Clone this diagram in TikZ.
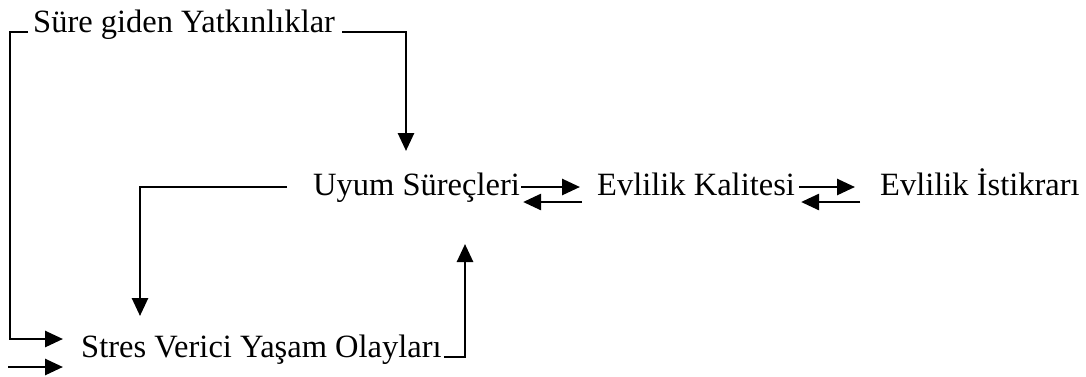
\documentclass[tikz,border=0pt]{standalone}
\usepackage{fontspec}
\setmainfont{Liberation Serif}
\usetikzlibrary{arrows.meta}
\begin{document}
\begin{tikzpicture}[x=1pt,y=-1pt,
  lbl/.style={anchor=base west,inner sep=0pt,font=\fontsize{32.5}{38}\selectfont},
  conn/.style={line width=2.7pt},
  arr/.style={conn,-{Triangle[length=18pt,width=16pt]}}]
\useasboundingbox (0,0) rectangle (1086,376);
% text nodes
\node[lbl] (sg) at (33,32) {Süre giden Yatkınlıklar};
\node[lbl] (uy) at (313,195) {Uyum Süreçleri};
\node[lbl] (ek) at (597,195) {Evlilik Kalitesi};
\node[lbl] (ei) at (880,195) {Evlilik İstikrarı};
\node[lbl] (st) at (81,357) {Stres Verici Yaşam Olayları};
% corner / free-end coordinates
\coordinate (c1) at (10,32);
\coordinate (c2) at (10,339);
\coordinate (t1) at (63,339);
\coordinate (c3) at (406,32);
\coordinate (t2) at (406,151);
\coordinate (c4) at (140,187);
\coordinate (t3) at (140,316);
\coordinate (c5) at (465,357);
\coordinate (t4) at (465,244);
\coordinate (b0) at (8,367);
\coordinate (b1) at (63,367);
% connectors
\draw[arr] ([xshift=-5pt]sg.base west) -- (c1) -- (c2) -- (t1);
\draw[arr] ([xshift=7pt]sg.base east) -- (c3) -- (t2);
\draw[arr] ([xshift=-26pt,yshift=8pt]uy.base west) -- (c4) -- (t3);
\draw[arr] ([xshift=2pt]st.base east) -- (c5) -- (t4);
\draw[arr] ([xshift=1pt,yshift=8pt]uy.base east) -- ([xshift=-17pt,yshift=8pt]ek.base west);
\draw[arr] ([xshift=-15pt,yshift=-7pt]ek.base west) -- ([xshift=3pt,yshift=-7pt]uy.base east);
\draw[arr] ([xshift=4pt,yshift=8pt]ek.base east) -- ([xshift=-25pt,yshift=8pt]ei.base west);
\draw[arr] ([xshift=-20pt,yshift=-7pt]ei.base west) -- ([xshift=6pt,yshift=-7pt]ek.base east);
\draw[arr] (b0) -- (b1);
\end{tikzpicture}
\end{document}
